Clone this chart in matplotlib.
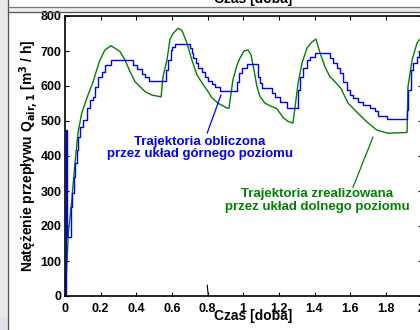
import matplotlib
matplotlib.use('Agg')
import matplotlib.pyplot as plt
from matplotlib.patches import Rectangle
from matplotlib.lines import Line2D

plt.rcParams['font.family'] = ['Liberation Sans', 'DejaVu Sans']
plt.rcParams['font.weight'] = 'bold'

# trajectory realised by the lower-level controller (green)
t_real = [0.000, 0.006, 0.019, 0.038, 0.056, 0.073, 0.094, 0.129, 0.157, 0.178,
          0.196, 0.224, 0.258, 0.286, 0.309, 0.337, 0.365, 0.393, 0.421, 0.449,
          0.488, 0.539, 0.550, 0.572, 0.589, 0.606, 0.634, 0.656, 0.684, 0.712,
          0.741, 0.769, 0.797, 0.825, 0.858, 0.909, 0.920, 0.942, 0.965, 0.982,
          1.004, 1.026, 1.043, 1.060, 1.077, 1.094, 1.122, 1.161, 1.189, 1.223,
          1.251, 1.279, 1.308, 1.330, 1.358, 1.386, 1.408, 1.431, 1.459, 1.487,
          1.515, 1.548, 1.588, 1.644, 1.694, 1.750, 1.812, 1.907, 1.919, 1.924,
          1.947, 1.975, 1.992, 2.008]
q_real = [0, 46, 180, 274, 380, 466, 523, 574, 611, 646,
          674, 703, 715, 706, 698, 674, 641, 612, 598, 584,
          574, 569, 627, 674, 733, 750, 765, 759, 723, 674,
          631, 609, 588, 566, 551, 537, 537, 617, 660, 680,
          700, 703, 690, 646, 598, 570, 551, 541, 535, 510,
          499, 494, 609, 666, 709, 726, 734, 694, 654, 626,
          612, 593, 551, 522, 497, 474, 465, 467, 468, 597,
          674, 723, 734, 740]

# trajectory computed by the upper-level controller (blue, piecewise constant)
t_plan = [0.000, 0.003, 0.011, 0.036, 0.042, 0.048, 0.056, 0.066, 0.075, 0.084,
          0.101, 0.122, 0.140, 0.159, 0.168, 0.187, 0.206, 0.224, 0.256, 0.380,
          0.404, 0.430, 0.449, 0.471, 0.567, 0.578, 0.592, 0.603, 0.617, 0.701,
          0.711, 0.718, 0.735, 0.746, 0.767, 0.785, 0.802, 0.823, 0.842, 0.870,
          0.963, 0.976, 0.991, 1.019, 1.081, 1.094, 1.104, 1.160, 1.178, 1.206,
          1.244, 1.309, 1.318, 1.335, 1.356, 1.374, 1.403, 1.487, 1.505, 1.524,
          1.543, 1.561, 1.580, 1.599, 1.617, 1.645, 1.674, 1.711, 1.739, 1.758,
          1.805, 1.917, 1.926, 1.941, 1.954, 1.973, 1.988, 2.010]
q_plan = [0, 474, 170, 254, 294, 340, 380, 417, 454, 483,
          503, 537, 560, 569, 597, 626, 640, 660, 673, 660,
          648, 634, 627, 614, 646, 674, 703, 712, 720, 709,
          694, 680, 666, 651, 641, 627, 615, 606, 598, 586,
          612, 637, 651, 662, 627, 609, 595, 580, 569, 555,
          537, 589, 627, 652, 674, 684, 693, 679, 665, 650,
          636, 612, 589, 574, 565, 555, 546, 536, 529, 514,
          505, 531, 589, 646, 665, 684, 698, 698]

x_ticks = [0, 0.2, 0.4, 0.6, 0.8, 1, 1.2, 1.4, 1.6, 1.8, 2]
x_tick_labels = ['0', '0.2', '0.4', '0.6', '0.8', '1', '1.2', '1.4', '1.6', '1.8', '2']
y_ticks = [0, 100, 200, 300, 400, 500, 600, 700, 800]

W, H = 420, 330
BLUE = '#0000ff'
GREEN = '#008000'


def px(x, y):
    """Pixel position (from top left) to figure fraction."""
    return x / W, 1 - y / H


fig = plt.figure(figsize=(4.2, 3.3), dpi=100)
fig.patch.set_facecolor('white')

# slide / window frame around the cropped figure
fig.add_artist(Rectangle(px(0, H), 8.3 / W, 1, transform=fig.transFigure,
                         color='#e9e9e9', zorder=0))
fig.add_artist(Rectangle(px(0, H), 8.3 / W, 12 / H, transform=fig.transFigure,
                         color='#dfe1ec', zorder=0))
fig.add_artist(Rectangle(px(8.3, 12.3), 1, 5.6 / H, transform=fig.transFigure,
                         color='#ececec', zorder=0))
fig.add_artist(Line2D([8.3 / W, 8.3 / W], [0, 1], transform=fig.transFigure,
                      color='#555555', lw=0.9))
fig.add_artist(Line2D([8.3 / W, 1], [1 - 6.7 / H] * 2, transform=fig.transFigure,
                      color='#777777', lw=0.9))
fig.add_artist(Line2D([8.3 / W, 1], [1 - 12.3 / H] * 2, transform=fig.transFigure,
                      color='#555555', lw=0.9))
# bottom of the previous panel's axis label, cut by the screenshot
fig.text(253.5 / W, 1 - 2.5 / H, 'Czas [doba]', ha='center', va='baseline',
         fontsize=10, fontweight='bold')

ax = fig.add_axes([65 / W, 34 / H, 356.5 / W, 280 / H])
ax.plot(t_real, q_real, color=GREEN, lw=1.0)
ax.plot(t_plan, q_plan, color=BLUE, lw=1.0, drawstyle='steps-post')

ax.set_xlim(0, 2)
ax.set_ylim(0, 800)
ax.set_xticks(x_ticks)
ax.set_xticklabels(x_tick_labels)
ax.set_yticks(y_ticks)
ax.tick_params(direction='in', length=3, width=0.8, top=True, right=True,
               labelsize=9)
ax.tick_params(axis='x', pad=5)
ax.tick_params(axis='y', pad=2.5)
for lab in ax.get_xticklabels() + ax.get_yticklabels():
    lab.set_fontweight('bold')
for sp in ax.spines.values():
    sp.set_linewidth(1.2)

ax.set_xlabel('Czas [doba]', fontsize=10, fontweight='bold')
ax.xaxis.set_label_coords(0.529, -0.048)
ax.set_ylabel(r'Natężenie przepływu Q$_{\mathbf{air,1}}$ [m$^{\mathbf{3}}$ / h]',
              fontsize=10, fontweight='bold')
ax.yaxis.set_label_coords(-0.067, 0.5)

# labels with pointer lines
ax.plot([0.798, 0.875], [466, 574], color=BLUE, lw=0.9)
ax.text(0.757, 423, 'Trajektoria obliczona\nprzez układ górnego poziomu',
        color=BLUE, ha='center', va='center', fontsize=9.5, fontweight='bold',
        linespacing=1.1)
ax.plot([1.616, 1.728], [311, 454], color=GREEN, lw=0.9)
ax.text(1.414, 273, 'Trajektoria zrealizowana\nprzez układ dolnego poziomu',
        color=GREEN, ha='center', va='center', fontsize=9.5, fontweight='bold',
        linespacing=1.1)
ax.plot([0.804, 0.798], [0, 31], color='black', lw=0.8)

fig.savefig('out.png', dpi=100)
